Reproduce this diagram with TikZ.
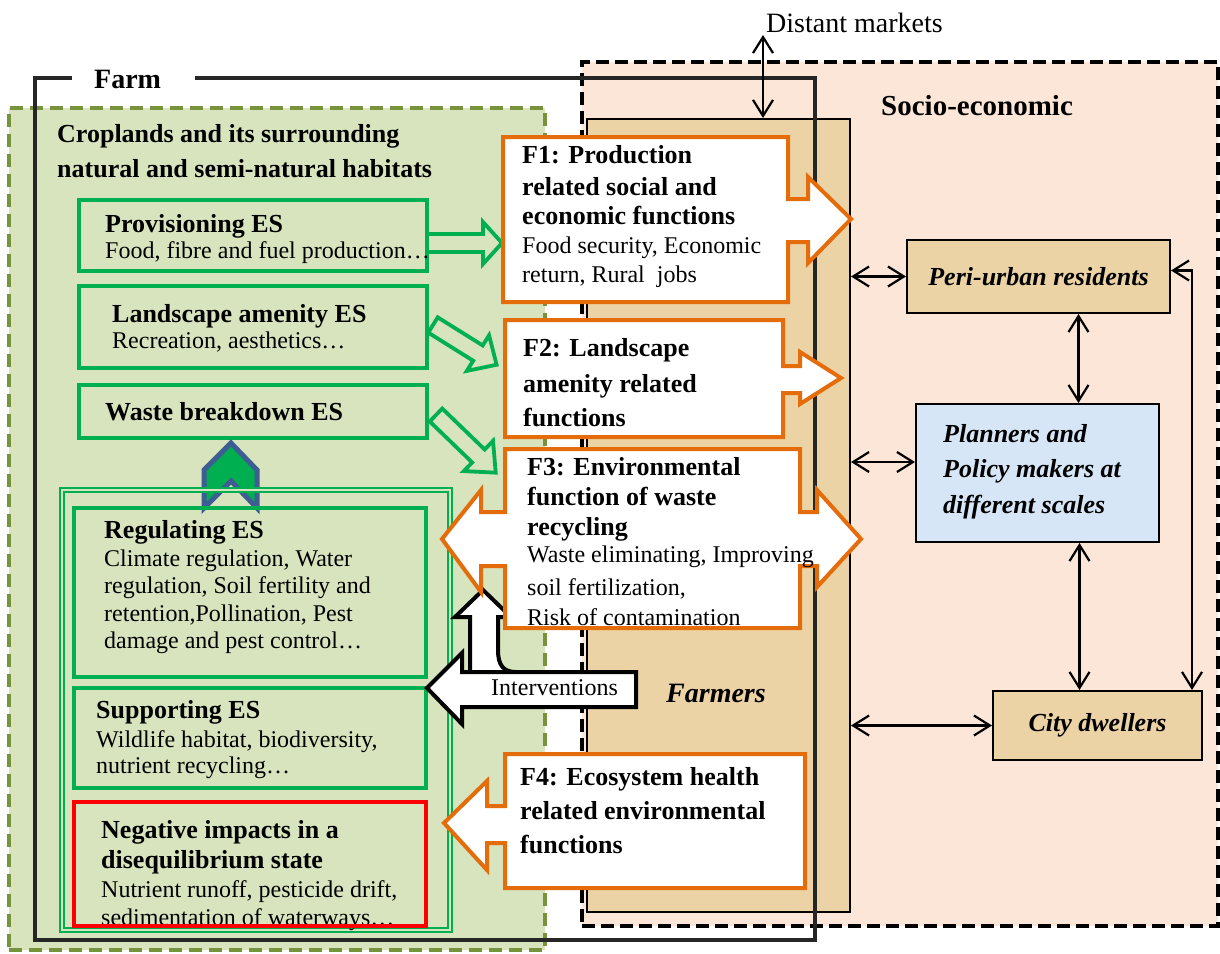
\documentclass[tikz,border=0pt]{standalone}
\usepackage{fontspec}
\setmainfont{Liberation Serif}
\usetikzlibrary{arrows.meta}
\definecolor{bggreen}{HTML}{D7E4BD}
\definecolor{olivec}{HTML}{77933C}
\definecolor{esgreen}{HTML}{00B050}
\definecolor{orng}{HTML}{E46C0A}
\definecolor{peach}{HTML}{FCE6D8}
\definecolor{tanc}{HTML}{EBD3A6}
\definecolor{lblue}{HTML}{D6E6F7}
\definecolor{chevblue}{HTML}{3D5D93}
\definecolor{farmgray}{HTML}{262626}
\newcommand\hfont{\fontsize{26}{26}\selectfont\bfseries}
\newcommand\bfnt{\fontsize{24}{24}\selectfont}
\newcommand\rfont{\fontsize{26}{26}\selectfont\bfseries\itshape}
\newcommand\Ln[2]{\baselineskip=#1pt\relax\hbox{#2}}
\newcommand\Stack[1]{\vtop{\lineskiplimit=-1000pt\lineskip=0pt\relax #1}}
\newcommand\hollowarrow[7]{%
  \draw[harrow, shift={(#1,#2)}, rotate=#3] (0,-#5) -- (#4-#7,-#5) -- (#4-#7,-#6) -- (#4,0) -- (#4-#7,#6) -- (#4-#7,#5) -- (0,#5) -- cycle;}
\begin{document}
\begin{tikzpicture}[x=1pt, y=-1pt, line join=miter,
  txt/.style={anchor=base west, inner sep=0pt},
  sociobox/.style={draw=black, line width=4pt, dash pattern=on 13pt off 6pt, fill=peach},
  greenbox/.style={draw=olivec, line width=4pt, dash pattern=on 13pt off 7pt, fill=bggreen},
  sidebox/.style={draw=black, line width=2pt},
  esbox/.style={draw=esgreen, line width=3.5pt},
  negbox/.style={draw=red, line width=4pt},
  dblbox/.style={draw=esgreen, line width=1.3pt, double=bggreen, double distance=2.5pt},
  harrow/.style={draw=esgreen, line width=3.8pt},
  callout/.style={draw=orng, line width=4pt, fill=white},
  blackarrow/.style={draw=black, line width=4pt, fill=white},
  farmline/.style={draw=farmgray, line width=4pt},
  chev/.style={draw=chevblue, line width=5pt, fill=esgreen},
  conn/.style={draw=black, line width=2.2pt, {Straight Barb[length=16pt,width=20pt,line width=2.2pt]}-{Straight Barb[length=16pt,width=20pt,line width=2.2pt]}},
  box/.style={inner sep=0pt}]
\useasboundingbox (0,0) rectangle (1220,953);
\fill[white] (0,0) rectangle (1220,953);

% background regions
\node[sociobox, box, minimum width=636pt, minimum height=864pt] (socio) at (900,494) {};
\node[greenbox, box, minimum width=536pt, minimum height=842pt] (crop) at (277,529) {};
\node[sidebox, box, fill=tanc, minimum width=263pt, minimum height=793pt] (farmers) at (718.5,515.5) {};

\node[txt] (sociot) at (881,115) {\fontsize{29}{29}\selectfont\bfseries Socio-economic};
\node[txt] (farmerst) at (666,702) {\fontsize{28}{28}\selectfont\bfseries\itshape Farmers};

% right side actors
\node[sidebox, box, fill=tanc, minimum width=263pt, minimum height=73pt] (peri) at (1038.5,276.5) {\rfont Peri-urban residents};
\node[sidebox, box, fill=lblue, minimum width=243pt, minimum height=138pt] (planners) at (1037.5,473) {};
\node[txt] (plannerst) at (943,442) {\Stack{\Ln{0}{\rfont Planners and}\Ln{35}{\rfont Policy makers at}\Ln{36}{\rfont different scales}}};
\node[sidebox, box, fill=tanc, minimum width=209pt, minimum height=69pt] (city) at (1097.5,725.5) {\rfont City dwellers};

\draw[conn] (farmers.east |- peri.west) -- (peri.west);
\draw[conn] (farmers.east |- planners.west) ++(0,-11) coordinate (fpl) -- (fpl -| planners.west);
\draw[conn] (farmers.east |- city.west) -- (city.west);
\draw[conn] ([xshift=40pt]peri.south) -- ([xshift=40pt]peri.south |- planners.north);
\draw[conn] ([xshift=42pt]planners.south) -- ([xshift=42pt]planners.south |- city.north);
\draw[conn] ([yshift=6pt]peri.east) -| ([xshift=-11pt]city.north east);

% left side
\node[txt] (cropt) at (57,142) {\Stack{\Ln{0}{\hfont Croplands and its surrounding}\Ln{35}{\hfont natural and semi-natural habitats}}};

\node[esbox, box, minimum width=348pt, minimum height=71pt] (prov) at (253,235.5) {};
\node[txt] (provt) at (105,232) {\Stack{\Ln{0}{\hfont Provisioning ES}\Ln{26}{\bfnt Food, fibre and fuel production…}}};
\node[esbox, box, minimum width=348pt, minimum height=82pt] (land) at (253,327) {};
\node[txt] (landt) at (112,322) {\Stack{\Ln{0}{\hfont Landscape amenity ES}\Ln{26}{\bfnt Recreation, aesthetics…}}};
\node[esbox, box, minimum width=348pt, minimum height=53pt] (waste) at (253,411.5) {};
\node[txt] (wastet) at (105,420) {\hfont Waste breakdown ES};

\draw[chev] (204,508) -- (204,470) -- (231,443) -- (257,470) -- (257,508) -- (231,481) -- cycle;

\node[dblbox, box, minimum width=388pt, minimum height=440pt] (lower) at (256,710) {};
\node[esbox, box, minimum width=352pt, minimum height=169pt] (reg) at (250,592.5) {};
\node[txt] (regt) at (104,538) {\Stack{\Ln{0}{\hfont Regulating ES}\Ln{28}{\bfnt Climate regulation, Water}\Ln{27}{\bfnt regulation, Soil fertility and}\Ln{28}{\bfnt retention,Pollination, Pest}\Ln{27}{\bfnt damage and pest control…}}};
\node[esbox, box, minimum width=352pt, minimum height=100pt] (sup) at (250,738) {};
\node[txt] (supt) at (96,718) {\Stack{\Ln{0}{\hfont Supporting ES}\Ln{29}{\bfnt Wildlife habitat, biodiversity,}\Ln{26}{\bfnt nutrient recycling…}}};
\node[txt] (negt) at (101,838) {\Stack{\Ln{0}{\hfont Negative impacts in a}\Ln{30}{\hfont disequilibrium state}\Ln{29}{\bfnt Nutrient runoff, pesticide drift,}\Ln{28}{\bfnt sedimentation of waterways…}}};
\node[negbox, box, minimum width=352pt, minimum height=124pt] (neg) at (250,864) {};

% hollow green arrows
\hollowarrow{427}{243}{0}{75}{9}{21}{19}
\hollowarrow{433}{325}{-32}{75}{9}{21}{22}
\hollowarrow{436}{415}{-44}{83}{9}{21}{24}

% farm boundary
\draw[farmline] (72,78) -- (35,78) -- (35,940) -- (815,940) -- (815,78) -- (195,78);
\node[txt] (farmt) at (94,88) {\fontsize{28}{28}\selectfont\bfseries Farm};

% distant markets
\node[txt] (dm) at (766,32) {\fontsize{28}{28}\selectfont Distant markets};
\coordinate (dmc) at (763,35);
\draw[conn] (dmc) -- (dmc |- farmers.north);

% interventions
\draw[blackarrow] (470,672) -- (470,617) -- (455,617) -- (483,590) -- (511,617) -- (498,617) -- (498,650) .. controls (498,666) and (504,672) .. (516,672) -- cycle;
\draw[blackarrow] (636,672) -- (636,707) -- (462,707) -- (462,724) -- (427,688) -- (462,653) -- (462,672) -- cycle;
\node[txt] (intv) at (491,695) {\bfnt Interventions};

% function callouts
\draw[callout] (503,137) -- (788,137) -- (788,199) -- (808,199) -- (808,177) -- (851,219) -- (808,263) -- (808,242) -- (788,242) -- (788,302) -- (503,302) -- cycle;
\node[txt] (f1t) at (522,163) {\Stack{\Ln{0}{\hfont F1: Production}\Ln{32}{\hfont related social and}\Ln{29}{\hfont economic functions}\Ln{29}{\bfnt Food security, Economic}\Ln{29}{\bfnt return, Rural\ \ jobs}}};

\draw[callout] (505,320) -- (783,320) -- (783,366) -- (800,366) -- (800,352) -- (841,378) -- (800,404) -- (800,393) -- (783,393) -- (783,437) -- (505,437) -- cycle;
\node[txt] (f2t) at (523,356) {\Stack{\Ln{0}{\hfont F2: Landscape}\Ln{36}{\hfont amenity related}\Ln{34}{\hfont functions}}};

\draw[callout] (505,449) -- (800,449) -- (800,512) -- (817,512) -- (817,490) -- (861,539) -- (817,587) -- (817,566) -- (800,566) -- (800,628) -- (505,628) -- (505,566) -- (481,566) -- (481,592) -- (442,539) -- (481,490) -- (481,512) -- (505,512) -- cycle;
\node[txt] (f3t) at (527,475) {\Stack{\Ln{0}{\hfont F3: Environmental}\Ln{30}{\hfont function of waste}\Ln{30}{\hfont recycling}\Ln{27}{\bfnt Waste eliminating, Improving}\Ln{33}{\bfnt soil fertilization,}\Ln{30}{\bfnt Risk of contamination}}};

\draw[callout] (505,754) -- (805,754) -- (805,888) -- (505,888) -- (505,843) -- (487,843) -- (487,870) -- (444,823) -- (487,781) -- (487,806) -- (505,806) -- cycle;
\node[txt] (f4t) at (520,785) {\Stack{\Ln{0}{\hfont F4: Ecosystem health}\Ln{34}{\hfont related environmental}\Ln{34}{\hfont functions}}};
\end{tikzpicture}
\end{document}
